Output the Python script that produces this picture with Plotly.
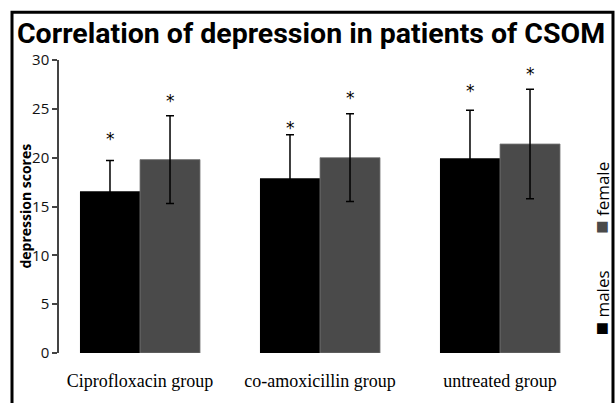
import plotly.graph_objects as go

groups = ["Ciprofloxacin group", "co-amoxicillin group", "untreated group"]
males = [16.55, 17.9, 19.95]
males_err = [3.15, 4.45, 4.9]
female = [19.8, 20.0, 21.4]
female_err = [4.5, 4.5, 5.6]
males_star = [22.2, 23.3, 27.1]
female_star = [26.1, 26.4, 28.9]
yticks = [0, 5, 10, 15, 20, 25, 30]

MALE_C = "#000000"
FEM_C = "#4a4a4a"

fig = go.Figure()
fig.add_trace(go.Bar(
    name="males", x=groups, y=males, marker_color=MALE_C,
    marker_line_width=0,
    error_y=dict(type="data", array=males_err, color="#000000", thickness=1.5, width=4),
))
fig.add_trace(go.Bar(
    name="female", x=groups, y=female, marker_color=FEM_C,
    marker_line=dict(color="#7a7a7a", width=0.8),
    error_y=dict(type="data", array=female_err, color="#000000", thickness=1.5, width=4),
))

annotations = []
for g, ys in zip(groups, males_star):
    annotations.append(dict(x=g, y=ys, xref="x", yref="y", text="*", showarrow=False,
                            xshift=-30, yshift=-3,
                            font=dict(family="DejaVu Sans", size=17, color="#000")))
for g, ys in zip(groups, female_star):
    annotations.append(dict(x=g, y=ys, xref="x", yref="y", text="*", showarrow=False,
                            xshift=30, yshift=-3,
                            font=dict(family="DejaVu Sans", size=17, color="#000")))

# y-axis title
annotations.append(dict(x=-0.064, y=0.5, xref="paper", yref="paper", text="<b>depression scores</b>",
                        textangle=-90, showarrow=False, xanchor="center", yanchor="middle",
                        font=dict(family="Open Sans", size=14, color="#000")))
# rotated legend
annotations.append(dict(x=1.019, y=0.17, xref="paper", yref="paper",
                        text=f"<span style='color:{MALE_C};font-size:22px'>■</span> males",
                        textangle=-90, showarrow=False, xanchor="center", yanchor="middle",
                        font=dict(family="Open Sans", size=17, color="#000")))
annotations.append(dict(x=1.019, y=0.53, xref="paper", yref="paper",
                        text=f"<span style='color:{FEM_C};font-size:22px'>■</span> female",
                        textangle=-90, showarrow=False, xanchor="center", yanchor="middle",
                        font=dict(family="Open Sans", size=17, color="#000")))

fig.update_layout(
    width=616, height=403,
    margin=dict(l=59, r=26, t=60, b=48),
    paper_bgcolor="white", plot_bgcolor="white",
    barmode="group", bargap=0.333, bargroupgap=0,
    showlegend=False,
    title=dict(text="<b>Correlation of depression in patients of CSOM</b>",
               x=0.505, xref="container", xanchor="center",
               y=0.918, yref="container", yanchor="middle",
               font=dict(family="Roboto", size=28.5, color="#000")),
    xaxis=dict(range=[-0.45, 2.5], showline=False, showgrid=False, zeroline=False,
               ticks="", ticklabelstandoff=15,
               tickfont=dict(family="Liberation Serif", size=18, color="#000")),
    yaxis=dict(range=[0, 30], tickvals=yticks, showline=True, linecolor="#444", linewidth=1.5,
               ticks="outside", ticklen=5, tickwidth=1.5, tickcolor="#444",
               showgrid=False, zeroline=False,
               tickfont=dict(family="Open Sans", size=15, color="#111")),
    annotations=annotations,
    shapes=[dict(type="rect", xref="paper", yref="paper",
                 x0=-0.0885, x1=1.0433, y0=-0.2, y1=1.1627,
                 line=dict(color="#000", width=3), fillcolor="rgba(0,0,0,0)")],
)

fig.write_html("out.html", config={"displayModeBar": False},
               post_script="document.body.style.margin='0';document.body.style.overflow='hidden';")
